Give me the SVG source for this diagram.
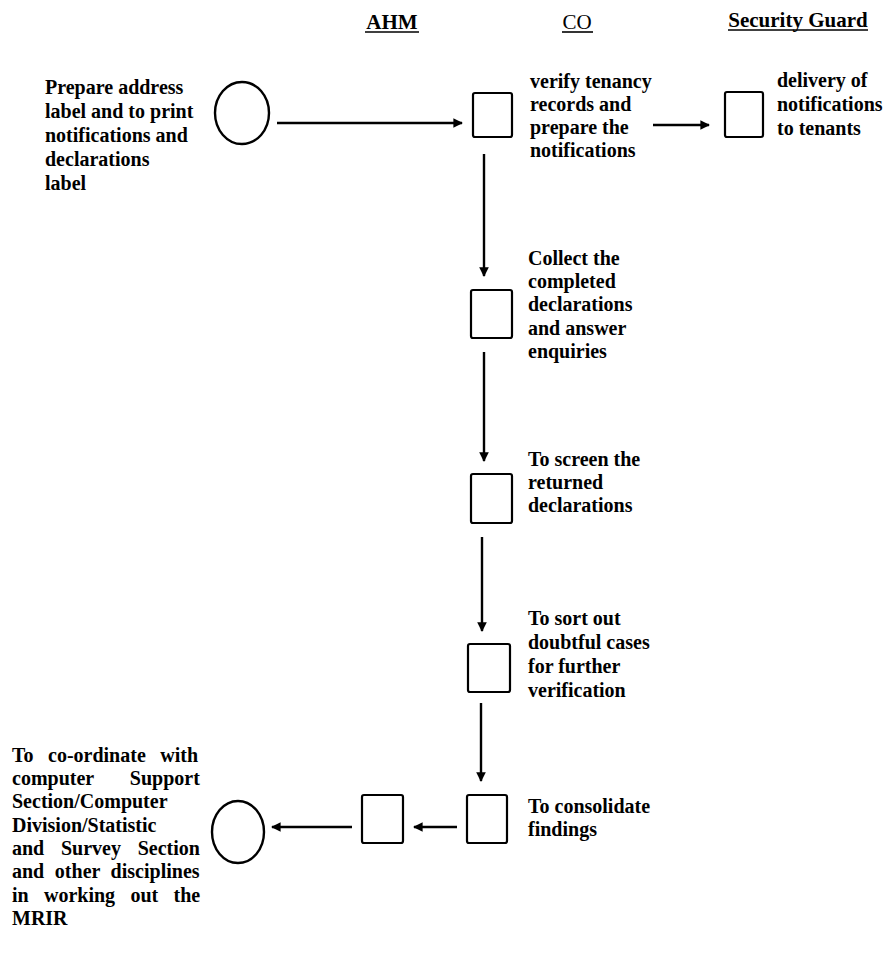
<svg xmlns="http://www.w3.org/2000/svg" width="892" height="975" viewBox="0 0 892 975">
<style>
  .bg{fill:#ffffff}
  .hdr{font-family:"Liberation Serif",serif;font-size:21px;font-weight:bold;fill:#000}
  .hdrn{font-family:"Liberation Serif",serif;font-size:21px;font-weight:normal;fill:#000}
  .ul{stroke:#000;stroke-width:1.6}
  .t{font-family:"Liberation Serif",serif;font-size:20px;font-weight:bold;fill:#000}
  .box{fill:#fff;stroke:#000;stroke-width:2.2}
  .circ{fill:#fff;stroke:#000;stroke-width:2.4}
  .con{stroke:#000;stroke-width:2.4;fill:none}
</style>
<defs>
  <marker id="ah" viewBox="0 0 10 10" refX="9" refY="5" markerWidth="4" markerHeight="4" orient="auto" markerUnits="strokeWidth">
    <path d="M0,0 L10,5 L0,10 z" fill="#000"/>
  </marker>
</defs>
<rect class="bg" x="0" y="0" width="892" height="975"/>

<g id="headers">
  <text class="hdr" x="392" y="29" text-anchor="middle">AHM</text>
  <line class="ul" x1="365" y1="32" x2="419" y2="32"/>
  <text class="hdrn" x="577" y="29" text-anchor="middle">CO</text>
  <line class="ul" x1="562" y1="32" x2="593" y2="32"/>
  <text class="hdr" x="798" y="27" text-anchor="middle">Security Guard</text>
  <line class="ul" x1="728" y1="30" x2="868" y2="30"/>
</g>

<g id="start">
  <ellipse class="circ" cx="242" cy="113" rx="27" ry="31"/>
  <text class="t" x="45" y="94">Prepare address</text>
  <text class="t" x="45" y="118">label and to print</text>
  <text class="t" x="45" y="142">notifications and</text>
  <text class="t" x="45" y="166">declarations</text>
  <text class="t" x="45" y="190">label</text>
</g>

<g id="verify">
  <rect class="box" x="473" y="93" width="39" height="44" rx="2"/>
  <text class="t" x="530" y="88">verify tenancy</text>
  <text class="t" x="530" y="111">records and</text>
  <text class="t" x="530" y="134">prepare the</text>
  <text class="t" x="530" y="157">notifications</text>
</g>

<g id="delivery">
  <rect class="box" x="725" y="92" width="38" height="45" rx="2"/>
  <text class="t" x="777" y="87">delivery of</text>
  <text class="t" x="777" y="111">notifications</text>
  <text class="t" x="777" y="135">to tenants</text>
</g>

<g id="collect">
  <rect class="box" x="471" y="290" width="41" height="48" rx="2"/>
  <text class="t" x="528" y="265">Collect the</text>
  <text class="t" x="528" y="288">completed</text>
  <text class="t" x="528" y="311">declarations</text>
  <text class="t" x="528" y="335">and answer</text>
  <text class="t" x="528" y="358">enquiries</text>
</g>

<g id="screen">
  <rect class="box" x="471" y="474" width="41" height="49" rx="2"/>
  <text class="t" x="528" y="466">To screen the</text>
  <text class="t" x="528" y="489">returned</text>
  <text class="t" x="528" y="512">declarations</text>
</g>

<g id="sort">
  <rect class="box" x="468" y="644" width="42" height="48" rx="2"/>
  <text class="t" x="528" y="625">To sort out</text>
  <text class="t" x="528" y="649">doubtful  cases</text>
  <text class="t" x="528" y="673">for further</text>
  <text class="t" x="528" y="697">verification</text>
</g>

<g id="consolidate">
  <rect class="box" x="467" y="795" width="40" height="48" rx="2"/>
  <text class="t" x="528" y="813">To consolidate</text>
  <text class="t" x="528" y="836">findings</text>
</g>

<g id="ahm-step">
  <rect class="box" x="362" y="795" width="41" height="48" rx="2"/>
</g>

<g id="end">
  <ellipse class="circ" cx="238" cy="832" rx="26" ry="31"/>
  <text class="t" x="12" y="762" word-spacing="9.5">To co-ordinate with</text>
  <text class="t" x="12" y="785" word-spacing="31">computer Support</text>
  <text class="t" x="12" y="808">Section/Computer</text>
  <text class="t" x="12" y="832">Division/Statistic</text>
  <text class="t" x="12" y="855" word-spacing="11.7">and Survey Section</text>
  <text class="t" x="12" y="878" word-spacing="5.6">and other disciplines</text>
  <text class="t" x="12" y="902" word-spacing="10.3">in working out the</text>
  <text class="t" x="12" y="925">MRIR</text>
</g>

<g id="connectors">
  <line class="con" x1="277" y1="123" x2="462" y2="123" marker-end="url(#ah)"/>
  <line class="con" x1="653" y1="125" x2="709" y2="125" marker-end="url(#ah)"/>
  <line class="con" x1="484" y1="154" x2="484" y2="276" marker-end="url(#ah)"/>
  <line class="con" x1="484" y1="352" x2="484" y2="461" marker-end="url(#ah)"/>
  <line class="con" x1="482" y1="537" x2="482" y2="631" marker-end="url(#ah)"/>
  <line class="con" x1="481" y1="703" x2="481" y2="781" marker-end="url(#ah)"/>
  <line class="con" x1="457" y1="827" x2="414" y2="827" marker-end="url(#ah)"/>
  <line class="con" x1="352" y1="827" x2="272" y2="827" marker-end="url(#ah)"/>
</g>
</svg>
